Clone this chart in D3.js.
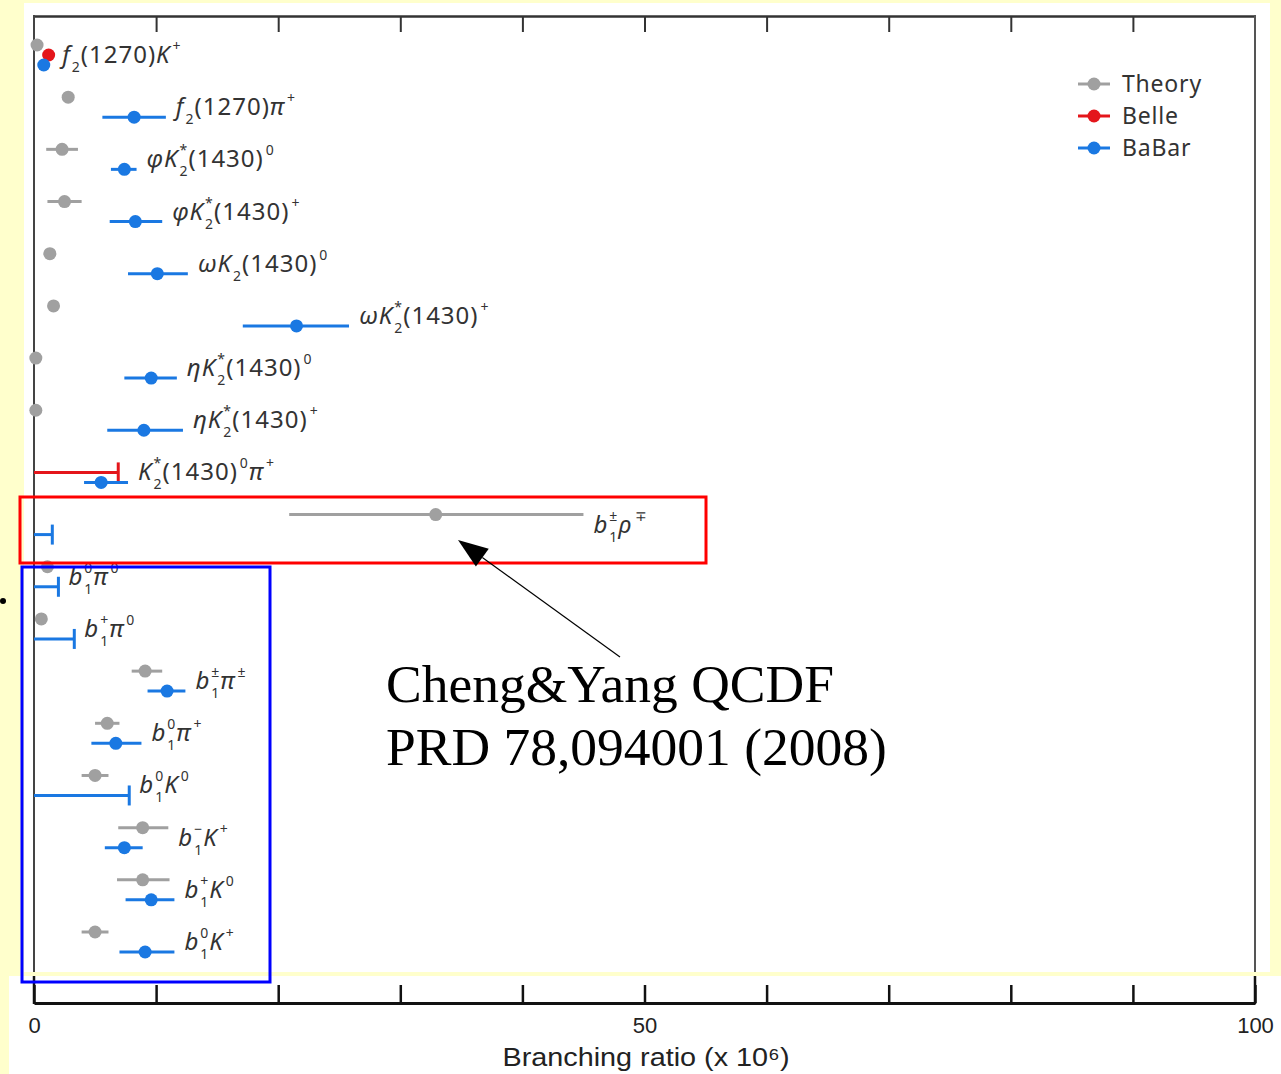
<!DOCTYPE html>
<html>
<head>
<meta charset="utf-8">
<script src="https://cdn.jsdelivr.net/npm/d3@7"></script>
<style>
  html, body { margin: 0; padding: 0; background: #ffffcc; }
  svg { display: block; }
</style>
</head>
<body>
<svg id="chart" width="1281" height="1074"></svg>
<script>
// ---------------- data ----------------
const labels = [
  "f_{2}(1270)K^{+}",
  "f_{2}(1270)π^{+}",
  "φK_{2}^{*}(1430)^{0}",
  "φK_{2}^{*}(1430)^{+}",
  "ωK_{2}(1430)^{0}",
  "ωK_{2}^{*}(1430)^{+}",
  "ηK_{2}^{*}(1430)^{0}",
  "ηK_{2}^{*}(1430)^{+}",
  "K_{2}^{*}(1430)^{0}π^{+}",
  "b_{1}^{±}ρ^{∓}",
  "b_{1}^{0}π^{0}",
  "b_{1}^{+}π^{0}",
  "b_{1}^{±}π^{±}",
  "b_{1}^{0}π^{+}",
  "b_{1}^{0}K^{0}",
  "b_{1}^{−}K^{+}",
  "b_{1}^{+}K^{0}",
  "b_{1}^{0}K^{+}"
];
// Theory (Cheng & Yang QCDF), x10^-6
const theoryVal = [0.25, 2.8, 2.3, 2.5, 1.3, 1.6, 0.15, 0.15, null, 32.9, 1.1, 0.6, 9.1, 6.0, 5.0, 8.9, 8.9, 5.0];
const theoryLo  = [null, null, 1.0, 1.1, 0.8, null, null, null, null, 20.9, null, null, 8.0, 5.0, 3.9, 6.9, 6.8, 3.9];
const theoryHi  = [null, null, 3.6, 3.9, 1.8, null, null, null, null, 45.0, null, null, 10.5, 7.0, 6.1, 11.0, 11.1, 6.1];
// Belle
const belleVal  = [1.2, null, null, null, null, null, null, null, null, null, null, null, null, null, null, null, null, null];
const belleUL   = [null, null, null, null, null, null, null, null, 6.9, null, null, null, null, null, null, null, null, null];
// BaBar
const babarVal  = [0.8, 8.2, 7.4, 8.3, 10.1, 21.5, 9.6, 9.0, 5.5, null, null, null, 10.9, 6.7, null, 7.4, 9.6, 9.1];
const babarLo   = [null, 5.6, 6.3, 6.2, 7.7, 17.1, 7.4, 6.0, 4.1, null, null, null, 9.3, 4.7, null, 5.8, 7.5, 7.0];
const babarHi   = [null, 10.8, 8.4, 10.5, 12.6, 25.8, 11.7, 12.2, 7.7, null, null, null, 12.4, 8.8, null, 8.9, 11.5, 11.5];
const babarUL   = [null, null, null, null, null, null, null, null, null, 1.5, 2.0, 3.3, null, null, 7.8, null, null, null];

const xTicks = [0, 10, 20, 30, 40, 50, 60, 70, 80, 90, 100];
const xTickLabels = [0, 50, 100];
const legendNames = ["Theory", "Belle", "BaBar"];
const xTitle = "Branching ratio (x 10⁶)";
const noteLines = ["Cheng&Yang QCDF", "PRD 78,094001 (2008)"];

// ---------------- styles ----------------
const colors = { Theory: "#a0a0a0", Belle: "#e4161b", BaBar: "#1a78e2" };
const textColor = "#333333";
const labelFont = "'Noto Sans', 'Open Sans', sans-serif";

const svg = d3.select("#chart");

// slide background pieces (white picture areas)
svg.append("rect").attr("x", 0).attr("y", 0).attr("width", 1281).attr("height", 1074).attr("fill", "#ffffcc");
svg.append("rect").attr("x", 24).attr("y", 3).attr("width", 1246).attr("height", 969).attr("fill", "#ffffff");
svg.append("rect").attr("x", 9).attr("y", 976).attr("width", 1272).attr("height", 98).attr("fill", "#ffffff");

const x = d3.scaleLinear().domain([0, 100]).range([34, 1255]);
const y = d3.scalePoint().domain(d3.range(labels.length)).range([55, 942]);

const offT = -10, offB = 0, offA = 10;
const r = 6.5;

// frame: top axis with inward ticks
const topAxis = d3.axisTop(x).tickValues(xTicks).tickSize(-16).tickSizeOuter(0).tickFormat("");
const gTop = svg.append("g").attr("transform", "translate(0,16)").call(topAxis);
gTop.select(".domain").attr("stroke", "#333").attr("stroke-width", 2.5);
gTop.selectAll(".tick line").attr("stroke", "#333").attr("stroke-width", 2);
gTop.selectAll(".tick").filter(d => d === 0 || d === 100).remove();

// left axis line & right border (upper picture)
svg.append("line").attr("x1", x(0)).attr("x2", x(0)).attr("y1", 15).attr("y2", 972).attr("stroke", "#444").attr("stroke-width", 2);
svg.append("line").attr("x1", x(100)).attr("x2", x(100)).attr("y1", 15).attr("y2", 972).attr("stroke", "#555").attr("stroke-width", 2);

// bottom axis (lower picture)
const botAxis = d3.axisBottom(x).tickValues(xTicks).tickSize(-18).tickSizeOuter(0).tickPadding(14)
  .tickFormat(d => xTickLabels.includes(d) ? d : "");
const gBot = svg.append("g").attr("transform", "translate(0,1003)").call(botAxis);
gBot.select(".domain").attr("stroke", "#111").attr("stroke-width", 3);
gBot.selectAll(".tick line").attr("stroke", "#111").attr("stroke-width", 2.5);
gBot.selectAll(".tick text").attr("fill", "#222").attr("font-size", 22)
  .attr("font-family", "'Liberation Sans Narrow', 'Arial Narrow', sans-serif")
  .attr("dy", "0.71em");
svg.append("line").attr("x1", x(0)).attr("x2", x(0)).attr("y1", 976).attr("y2", 1004).attr("stroke", "#111").attr("stroke-width", 2.5);
svg.append("line").attr("x1", x(100)).attr("x2", x(100)).attr("y1", 976).attr("y2", 1004).attr("stroke", "#111").attr("stroke-width", 2.5);

svg.append("text").attr("x", 646).attr("y", 1066).attr("text-anchor", "middle")
  .attr("font-family", "'Liberation Sans Narrow', 'Arial Narrow', sans-serif")
  .attr("font-size", 26).attr("fill", "#222")
  .attr("textLength", 287).attr("lengthAdjust", "spacingAndGlyphs")
  .text(xTitle);

// ---------------- marks ----------------
const gMarks = svg.append("g");
function errBar(lo, hi, yy, color) {
  gMarks.append("line").attr("x1", x(lo)).attr("x2", x(hi)).attr("y1", yy).attr("y2", yy)
    .attr("stroke", color).attr("stroke-width", 3);
}
function dot(v, yy, color) {
  gMarks.append("circle").attr("cx", x(v)).attr("cy", yy).attr("r", r).attr("fill", color);
}
function upperLimit(ul, yy, color) {
  gMarks.append("line").attr("x1", x(0)).attr("x2", x(ul)).attr("y1", yy).attr("y2", yy)
    .attr("stroke", color).attr("stroke-width", 3);
  gMarks.append("line").attr("x1", x(ul)).attr("x2", x(ul)).attr("y1", yy - 10).attr("y2", yy + 10)
    .attr("stroke", color).attr("stroke-width", 3);
}

const rightEdge = [];
labels.forEach((lab, i) => {
  const yc = y(i);
  let maxX = 0;
  if (theoryVal[i] != null) {
    if (theoryLo[i] != null) { errBar(theoryLo[i], theoryHi[i], yc + offT, colors.Theory); maxX = Math.max(maxX, x(theoryHi[i]) + 10); }
    dot(theoryVal[i], yc + offT, colors.Theory); maxX = Math.max(maxX, x(theoryVal[i]) + r + 7);
  }
  if (belleVal[i] != null) { dot(belleVal[i], yc + offB, colors.Belle); maxX = Math.max(maxX, x(belleVal[i]) + r + 7); }
  if (belleUL[i] != null) { upperLimit(belleUL[i], yc + offB, colors.Belle); maxX = Math.max(maxX, x(belleUL[i]) + 12); }
  if (babarVal[i] != null) {
    if (babarLo[i] != null) { errBar(babarLo[i], babarHi[i], yc + offA, colors.BaBar); maxX = Math.max(maxX, x(babarHi[i]) + 10); }
    dot(babarVal[i], yc + offA, colors.BaBar); maxX = Math.max(maxX, x(babarVal[i]) + r + 7);
  }
  if (babarUL[i] != null) { upperLimit(babarUL[i], yc + offA, colors.BaBar); maxX = Math.max(maxX, x(babarUL[i]) + 10); }
  rightEdge.push(maxX);
});

// ---------------- labels with sub/superscripts ----------------
const fs = 24;
const sfs = 14;
const subShift = 9, supShift = -12;
function drawLabel(str, px, py) {
  const t = svg.append("text").attr("x", px).attr("y", py)
    .attr("font-family", labelFont).attr("font-size", fs).attr("fill", textColor)
    .attr("letter-spacing", 1);
  const tokens = str.match(/_\{[^}]*\}|\^\{[^}]*\}|[^_^]+/g);
  let shift = 0;
  let pendingDx = 0;
  for (let k = 0; k < tokens.length; k++) {
    const tok = tokens[k];
    if (tok[0] === "_") {
      const txt = tok.slice(2, -1);
      const sub = t.append("tspan").attr("font-size", sfs).attr("dy", (subShift - shift)).attr("dx", pendingDx + 1).text(txt);
      pendingDx = 0; shift = subShift;
      if (tokens[k + 1] && tokens[k + 1][0] === "^") {
        const w = sub.node().getComputedTextLength();
        const stxt = tokens[k + 1].slice(2, -1);
        const sup = t.append("tspan").attr("font-size", sfs).attr("dx", -w).attr("dy", (supShift - shift)).text(stxt);
        shift = supShift;
        const w2 = sup.node().getComputedTextLength();
        pendingDx = Math.max(0, w - w2);
        k++;
      }
    } else if (tok[0] === "^") {
      const txt = tok.slice(2, -1);
      t.append("tspan").attr("font-size", sfs).attr("dx", pendingDx + 2).attr("dy", (supShift - shift)).text(txt);
      pendingDx = 0; shift = supShift;
    } else {
      const parts = tok.match(/[A-Za-zπφωηρ]+|[^A-Za-zπφωηρ]+/g);
      parts.forEach(p => {
        const it = /[A-Za-zπφωηρ]/.test(p);
        t.append("tspan").attr("font-style", it ? "italic" : "normal")
          .attr("dx", pendingDx).attr("dy", -shift).text(p);
        pendingDx = 0; shift = 0;
      });
    }
  }
  return t;
}
labels.forEach((lab, i) => drawLabel(lab, rightEdge[i], y(i) + 8));

// ---------------- legend ----------------
const gLeg = svg.append("g").attr("transform", "translate(1078,84)");
legendNames.forEach((n, i) => {
  const g = gLeg.append("g").attr("transform", `translate(0,${i * 32})`);
  g.append("line").attr("x1", 0).attr("x2", 32).attr("y1", 0).attr("y2", 0).attr("stroke", colors[n]).attr("stroke-width", 3);
  g.append("circle").attr("cx", 16).attr("cy", 0).attr("r", r).attr("fill", colors[n]);
  g.append("text").attr("x", 44).attr("y", 8).attr("font-family", labelFont).attr("font-size", 23)
    .attr("letter-spacing", 0.8).attr("fill", textColor).text(n);
});

// ---------------- annotations ----------------
svg.append("rect").attr("x", 20).attr("y", 497).attr("width", 686).attr("height", 66)
  .attr("fill", "none").attr("stroke", "#ff0000").attr("stroke-width", 3);
svg.append("rect").attr("x", 22).attr("y", 567).attr("width", 248).attr("height", 415)
  .attr("fill", "none").attr("stroke", "#0000ff").attr("stroke-width", 3);

// arrow
const tip = [458, 540], start = [620, 657];
const dx = tip[0] - start[0], dy = tip[1] - start[1];
const len = Math.hypot(dx, dy), ux = dx / len, uy = dy / len;
const hl = 30, hw = 11;
const bx = tip[0] - ux * hl, by = tip[1] - uy * hl;
svg.append("line").attr("x1", start[0]).attr("y1", start[1]).attr("x2", bx).attr("y2", by)
  .attr("stroke", "#000").attr("stroke-width", 1.2);
svg.append("path")
  .attr("d", `M${tip[0]},${tip[1]}L${bx - uy * hw},${by + ux * hw}L${bx + uy * hw},${by - ux * hw}Z`)
  .attr("fill", "#000");

noteLines.forEach((s, i) => {
  svg.append("text").attr("x", 386).attr("y", 702 + i * 63)
    .attr("font-family", "'Liberation Serif', 'Times New Roman', serif")
    .attr("font-size", 53.5).attr("fill", "#000").text(s);
});

// slide bullet
svg.append("circle").attr("cx", 3).attr("cy", 601).attr("r", 3).attr("fill", "#000");
</script>
</body>
</html>
